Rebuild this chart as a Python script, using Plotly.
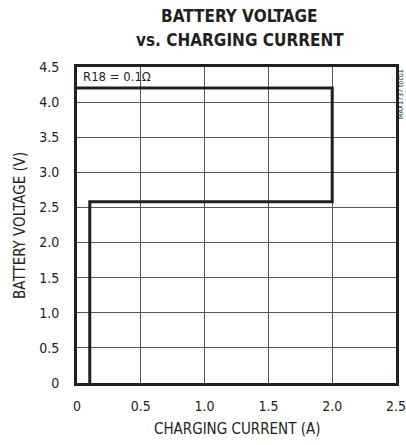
import plotly.graph_objects as go

current_a = [0.0, 2.0, 2.0, 0.1, 0.1]
voltage_v = [4.2, 4.2, 2.58, 2.58, 0.0]

x_ticks = [0, 0.5, 1.0, 1.5, 2.0, 2.5]
x_tick_labels = ["0", "0.5", "1.0", "1.5", "2.0", "2.5"]
y_ticks = [0, 0.5, 1.0, 1.5, 2.0, 2.5, 3.0, 3.5, 4.0, 4.5]
y_tick_labels = ["0", "0.5", "1.0", "1.5", "2.0", "2.5", "3.0", "3.5", "4.0", "4.5"]

FONT = "DejaVu Sans Condensed, Liberation Sans Narrow, Arial Narrow, Liberation Sans, Arial, sans-serif"
INK = "#231f20"

fig = go.Figure()
fig.add_trace(go.Scatter(
    x=current_a, y=voltage_v, mode="lines",
    line=dict(color=INK, width=3), showlegend=False, hoverinfo="skip",
))

fig.update_layout(
    width=406, height=445,
    margin=dict(l=77, r=10, t=67, b=62, autoexpand=False),
    paper_bgcolor="white", plot_bgcolor="white",
    font=dict(family=FONT, size=14, color=INK),
    xaxis=dict(
        range=[0, 2.5], tickvals=x_ticks, ticktext=x_tick_labels,
        showgrid=True, gridcolor="#555", gridwidth=1,
        showline=True, linecolor=INK, linewidth=3, mirror=True,
        ticks="", zeroline=False, automargin=False,
        ticklabelstandoff=8, ticklabeloverflow="allow",
        tickfont=dict(size=14),
    ),
    yaxis=dict(
        range=[0, 4.5], tickvals=y_ticks, ticktext=y_tick_labels,
        showgrid=True, gridcolor="#555", gridwidth=1,
        showline=True, linecolor=INK, linewidth=3, mirror=True,
        ticks="", zeroline=False, automargin=False,
        ticklabelstandoff=12, ticklabeloverflow="allow",
        tickfont=dict(size=14),
    ),
    annotations=[
        dict(text="<b>BATTERY VOLTAGE</b>", x=0.51, y=1.161, xref="paper", yref="paper",
             xanchor="center", yanchor="middle", showarrow=False,
             font=dict(family=FONT, size=17, color=INK)),
        dict(text="<b>vs. CHARGING CURRENT</b>", x=0.51, y=1.085, xref="paper", yref="paper",
             xanchor="center", yanchor="middle", showarrow=False,
             font=dict(family=FONT, size=17, color=INK)),
        dict(text="CHARGING CURRENT (A)", x=0.5, y=-0.146, xref="paper", yref="paper",
             xanchor="center", yanchor="middle", showarrow=False,
             font=dict(family=FONT, size=15, color=INK)),
        dict(text="BATTERY VOLTAGE (V)", x=-0.179, y=0.5, xref="paper", yref="paper",
             xanchor="center", yanchor="middle", showarrow=False, textangle=-90,
             font=dict(family=FONT, size=15, color=INK)),
        dict(text="R18 = 0.1Ω", x=0.03, y=4.37, xref="x", yref="y",
             xanchor="left", yanchor="middle", showarrow=False,
             font=dict(family=FONT, size=13, color=INK)),
        dict(text="MAX1737 toc01", x=1.0, y=1.0, xref="paper", yref="paper",
             xanchor="left", yanchor="top", xshift=-1, showarrow=False,
             textangle=-90, font=dict(family=FONT, size=7, color=INK)),
    ],
)

fig.write_html("out.html", config={"displayModeBar": False},
               post_script="document.body.style.margin='0';")
